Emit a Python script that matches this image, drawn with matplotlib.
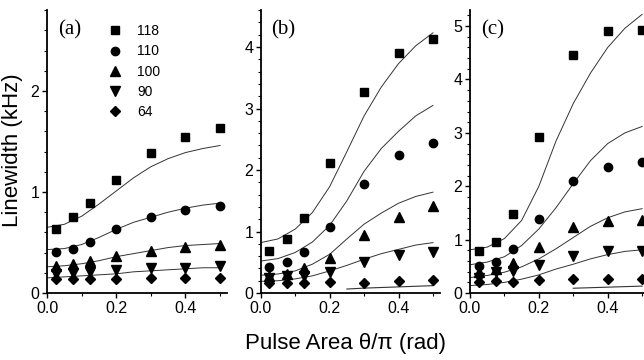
import matplotlib
matplotlib.use("Agg")
import matplotlib.pyplot as plt
import matplotlib.ticker as ticker

plt.rcParams["font.family"] = ["Liberation Sans", "DejaVu Sans"]

# pulse area of the measured points, and of the drawn fit curves
x_pts = [0.025, 0.075, 0.125, 0.2, 0.3, 0.4, 0.5]
x_fit = [0.0, 0.05, 0.1, 0.15, 0.2, 0.25, 0.3, 0.35, 0.4, 0.45, 0.5]
labels = ["118", "110", "100", "90", "64"]

# panel (a) points, rows in label order
pts_a = [
    [0.63, 0.75, 0.89, 1.12, 1.39, 1.54, 1.63],
    [0.41, 0.44, 0.51, 0.63, 0.75, 0.82, 0.86],
    [0.27, 0.29, 0.32, 0.37, 0.42, 0.46, 0.48],
    [0.19, 0.20, 0.21, 0.23, 0.25, 0.25, 0.27],
    [0.14, 0.14, 0.14, 0.14, 0.15, 0.15, 0.15],
]
fit_a = [
    [0.65, 0.68, 0.76, 0.88, 1.01, 1.14, 1.25, 1.33, 1.39, 1.43, 1.46],
    [0.43, 0.44, 0.48, 0.55, 0.63, 0.70, 0.75, 0.80, 0.84, 0.87, 0.89],
    [0.26, 0.27, 0.29, 0.32, 0.36, 0.39, 0.42, 0.45, 0.47, 0.48, 0.49],
    [0.15, 0.16, 0.17, 0.18, 0.19, 0.21, 0.22, 0.23, 0.24, 0.25, 0.25],
]

# panel (b)
pts_b = [
    [0.69, 0.88, 1.22, 2.12, 3.27, 3.91, 4.13],
    [0.43, 0.51, 0.66, 1.08, 1.77, 2.24, 2.44],
    [0.28, 0.31, 0.40, 0.57, 0.94, 1.24, 1.41],
    [0.24, 0.27, 0.28, 0.35, 0.50, 0.62, 0.67],
    [0.16, 0.16, 0.16, 0.18, 0.16, 0.20, 0.21],
]
fit_b = [
    [0.82, 0.88, 1.04, 1.31, 1.73, 2.30, 2.88, 3.35, 3.73, 4.02, 4.23],
    [0.52, 0.56, 0.66, 0.83, 1.10, 1.50, 1.98, 2.35, 2.63, 2.88, 3.05],
    [0.29, 0.31, 0.36, 0.47, 0.63, 0.88, 1.12, 1.30, 1.46, 1.57, 1.64],
    [0.19, 0.20, 0.23, 0.28, 0.36, 0.45, 0.55, 0.64, 0.71, 0.78, 0.82],
]
x_low_b = [0.25, 0.3, 0.35, 0.4, 0.45, 0.5]
fit_low_b = [0.065, 0.08, 0.09, 0.10, 0.11, 0.12]

# panel (c)
pts_c = [
    [0.78, 0.96, 1.48, 2.92, 4.45, 4.90, 4.93],
    [0.51, 0.59, 0.82, 1.39, 2.09, 2.36, 2.46],
    [0.39, 0.45, 0.57, 0.86, 1.23, 1.34, 1.37],
    [0.29, 0.39, 0.42, 0.52, 0.70, 0.79, 0.79],
    [0.20, 0.23, 0.21, 0.25, 0.26, 0.26, 0.26],
]
fit_c = [
    [0.81, 0.86, 1.02, 1.36, 2.00, 2.85, 3.55, 4.12, 4.60, 4.96, 5.22],
    [0.53, 0.58, 0.68, 0.89, 1.20, 1.60, 2.05, 2.48, 2.80, 3.00, 3.12],
    [0.29, 0.33, 0.39, 0.49, 0.64, 0.83, 1.04, 1.25, 1.41, 1.52, 1.58],
    [0.14, 0.16, 0.20, 0.26, 0.34, 0.45, 0.54, 0.64, 0.72, 0.78, 0.81],
]
x_low_c = [0.3, 0.35, 0.4, 0.45, 0.5]
fit_low_c = [0.09, 0.10, 0.11, 0.12, 0.13]

markers = ["s", "o", "^", "v", "D"]
msizes = [6, 6, 6.5, 6.5, 5]

fig = plt.figure(figsize=(6.44, 3.6), dpi=100)
bottom, height = 0.186, 0.786
ax_a = fig.add_axes([0.073, bottom, 0.2795, height])
ax_b = fig.add_axes([0.405, bottom, 0.278, height])
ax_c = fig.add_axes([0.7298, bottom, 0.278, height])

panels = [
    (ax_a, pts_a, fit_a, None, None, 2.8, "(a)"),
    (ax_b, pts_b, fit_b, x_low_b, fit_low_b, 4.6, "(b)"),
    (ax_c, pts_c, fit_c, x_low_c, fit_low_c, 5.3, "(c)"),
]

for ax, pts, fits, xl, yl, ytop, tag in panels:
    for f in fits:
        ax.plot(x_fit, f, color="#333333", lw=0.7, zorder=2)
    if xl is not None:
        ax.plot(xl, yl, color="#333333", lw=0.8, zorder=2)
    for i, ys in enumerate(pts):
        ax.plot(x_pts, ys, linestyle="none", marker=markers[i], ms=msizes[i],
                color="black", label=labels[i], zorder=3, clip_on=False)

    ax.set_xlim(0, 0.52)
    ax.set_ylim(0, ytop)
    ax.xaxis.set_major_locator(ticker.FixedLocator([0.0, 0.2, 0.4]))
    ax.xaxis.set_minor_locator(ticker.MultipleLocator(0.1))
    ax.xaxis.set_major_formatter(ticker.FormatStrFormatter("%.1f"))
    ax.yaxis.set_major_locator(ticker.MultipleLocator(1))
    ax.yaxis.set_minor_locator(ticker.MultipleLocator(0.2))
    ax.tick_params(which="major", length=3.5, width=1, labelsize=11.5, pad=2)
    ax.tick_params(which="minor", length=2, width=0.8)
    ax.spines["top"].set_visible(False)
    ax.spines["right"].set_visible(False)
    ax.spines["left"].set_linewidth(1.3)
    ax.spines["bottom"].set_linewidth(1.3)
    ax.text(0.06, 0.965, tag, transform=ax.transAxes, ha="left", va="top",
            fontsize=15, family="Liberation Serif")

ax_a.legend(loc="upper left", bbox_to_anchor=(0.34, 0.95), frameon=False,
            fontsize=10, handlelength=1.0, handletextpad=1.1,
            labelspacing=0.45, borderpad=0, borderaxespad=0)

fig.text(0.019, 0.583, "Linewidth (kHz)", rotation=90, ha="center", va="center",
         fontsize=16)
fig.text(0.537, 0.047, "Pulse Area θ/π (rad)", ha="center", va="center",
         fontsize=16)

fig.savefig("out.png", dpi=100)
